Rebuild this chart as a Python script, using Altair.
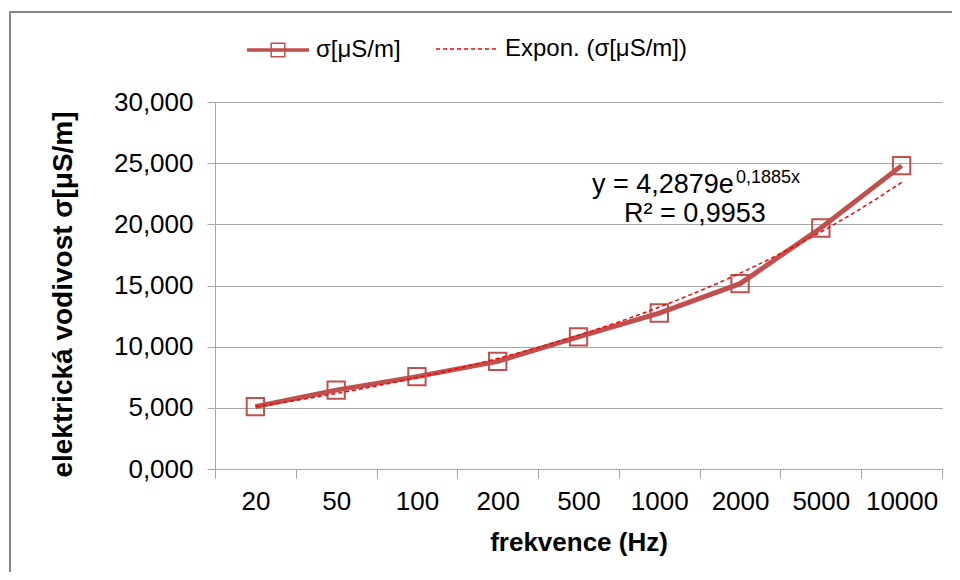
import altair as alt
import pandas as pd

# --- data ---
freq_labels = ["20", "50", "100", "200", "500", "1000", "2000", "5000", "10000"]
sigma = [5.1, 6.45, 7.55, 8.8, 10.8, 12.75, 15.15, 19.7, 24.8]
series_names = ["σ[μS/m]", "Expon. (σ[μS/m])"]
eq_main = "y = 4,2879e"
eq_sup = "0,1885x"
eq_r2 = "R² = 0,9953"

df = pd.DataFrame({
    "idx": list(range(1, len(freq_labels) + 1)),
    "freq": freq_labels,
    "value": sigma,
    "series": series_names[0],
})

FONT = "Liberation Sans"
LINE_C = "#c0504d"
TREND_C = "#ff0000"
GRID_C = "#a6a6a6"

label_arr = "[" + ",".join("'" + s + "'" for s in freq_labels) + "]"

x_scale = alt.Scale(domain=[0.5, 9.5], nice=False, zero=False)
y_scale = alt.Scale(domain=[0, 30], nice=False)

x_axis = alt.Axis(
    title="frekvence (Hz)",
    values=[i / 2 for i in range(1, 20)],
    labelExpr=f"datum.value % 1 === 0 ? {label_arr}[datum.value - 1] : ''",
    tickOpacity={"condition": {"test": "datum.value % 1 === 0", "value": 0}, "value": 1},
    tickSize=9,
    tickColor=GRID_C,
    domainColor=GRID_C,
    grid=False,
    labelFlush=False,
    labelOverlap=False,
    labelPadding=10,
    labelFontSize=26,
    labelFont=FONT,
    labelColor="#000000",
    titleFont=FONT,
    titleFontSize=26,
    titleFontWeight="bold",
    titleColor="#000000",
    titlePadding=15,
)

y_axis = alt.Axis(
    title="elektrická vodivost σ[μS/m]",
    values=[0, 5, 10, 15, 20, 25, 30],
    labelExpr="replace(format(datum.value, '.3f'), '.', ',')",
    tickSize=8,
    tickColor=GRID_C,
    domainColor=GRID_C,
    gridColor=GRID_C,
    grid=True,
    labelPadding=14,
    labelFontSize=26,
    labelFont=FONT,
    labelColor="#000000",
    titleFont=FONT,
    titleFontSize=28,
    titleFontWeight="bold",
    titleColor="#000000",
    titlePadding=36,
    titleY=192,
)

# legend symbols: thick line (stacked strokes) with hollow square; thin dashed line
sym1 = ("M-1,-0.032H1M-1,-0.016H1M-1,0H1M-1,0.016H1M-1,0.032H1"
        "M-0.22,-0.22H0.22V0.22H-0.22Z")
sym2 = "M-1,0H1"

legend1 = alt.Legend(
    title=None,
    orient="none",
    direction="horizontal",
    legendX=31,
    legendY=-84,
    labelFont=FONT,
    labelFontSize=24,
    labelColor="#000000",
    labelOffset=6,
    labelLimit=400,
    padding=0,
    symbolType=sym1,
    symbolSize=3844,
    symbolStrokeWidth=1.5,
    symbolFillColor="transparent",
    symbolOpacity=1,
)

legend2 = alt.Legend(
    title=None,
    orient="none",
    direction="horizontal",
    legendX=220,
    legendY=-84,
    labelFont=FONT,
    labelFontSize=24,
    labelColor="#000000",
    labelOffset=8,
    labelLimit=400,
    padding=0,
    symbolType=sym2,
    symbolSize=3600,
    symbolStrokeWidth=1.5,
    symbolStrokeColor=TREND_C,
    symbolOpacity=1,
)

base = alt.Chart(df)

frame = alt.Chart(pd.DataFrame({"k": [0]})).mark_rect(
    fill="transparent", stroke="#878787", strokeWidth=2
).encode(
    x=alt.value(-205), x2=alt.value(780), y=alt.value(-90), y2=alt.value(520)
)

line = base.mark_line(strokeWidth=5).encode(
    x=alt.X("idx:Q", scale=x_scale, axis=x_axis),
    y=alt.Y("value:Q", scale=y_scale, axis=y_axis),
    color=alt.Color(
        "series:N",
        scale=alt.Scale(domain=[series_names[0]], range=[LINE_C]),
        legend=legend1,
    ),
)

points = base.mark_point(
    shape="square", size=300, filled=False, strokeWidth=2, color=LINE_C, opacity=1
).encode(
    x=alt.X("idx:Q", scale=x_scale),
    y=alt.Y("value:Q", scale=y_scale),
)

# exponential trend fitted like Excel: least squares on ln(y)
trend = base.transform_calculate(
    logv="log(datum.value)"
).transform_regression(
    "idx", "logv", method="poly", order=1, extent=[1, 9]
).transform_calculate(
    value="exp(datum.logv)",
    series2=f"'{series_names[1]}'",
).mark_line(strokeWidth=1.5, color=TREND_C).encode(
    x=alt.X("idx:Q", scale=x_scale),
    y=alt.Y("value:Q", scale=y_scale),
    strokeDash=alt.StrokeDash(
        "series2:N",
        scale=alt.Scale(domain=[series_names[1]], range=[[4, 3]]),
        legend=legend2,
    ),
)

txt_main = alt.Chart(pd.DataFrame({"t": [eq_main]})).mark_text(
    font=FONT, fontSize=27, align="left", baseline="alphabetic", color="#000000"
).encode(x=alt.datum(5.167), y=alt.datum(22.56), text="t:N")

txt_sup = alt.Chart(pd.DataFrame({"t": [eq_sup]})).mark_text(
    font=FONT, fontSize=18, align="left", baseline="alphabetic", color="#000000"
).encode(x=alt.datum(6.95), y=alt.datum(23.38), text="t:N")

txt_r2 = alt.Chart(pd.DataFrame({"t": [eq_r2]})).mark_text(
    font=FONT, fontSize=27, align="center", baseline="alphabetic", color="#000000"
).encode(x=alt.datum(6.44), y=alt.datum(20.19), text="t:N")

chart = alt.layer(frame, line, points, trend, txt_main, txt_sup, txt_r2).properties(
    width=727,
    height=367,
    padding={"left": 207, "top": 94, "right": 10, "bottom": 103},
    autosize=alt.AutoSizeParams(type="none"),
    background="white",
).configure_view(stroke=None)

chart.save("out.html", embed_options={"renderer": "svg", "actions": False})
